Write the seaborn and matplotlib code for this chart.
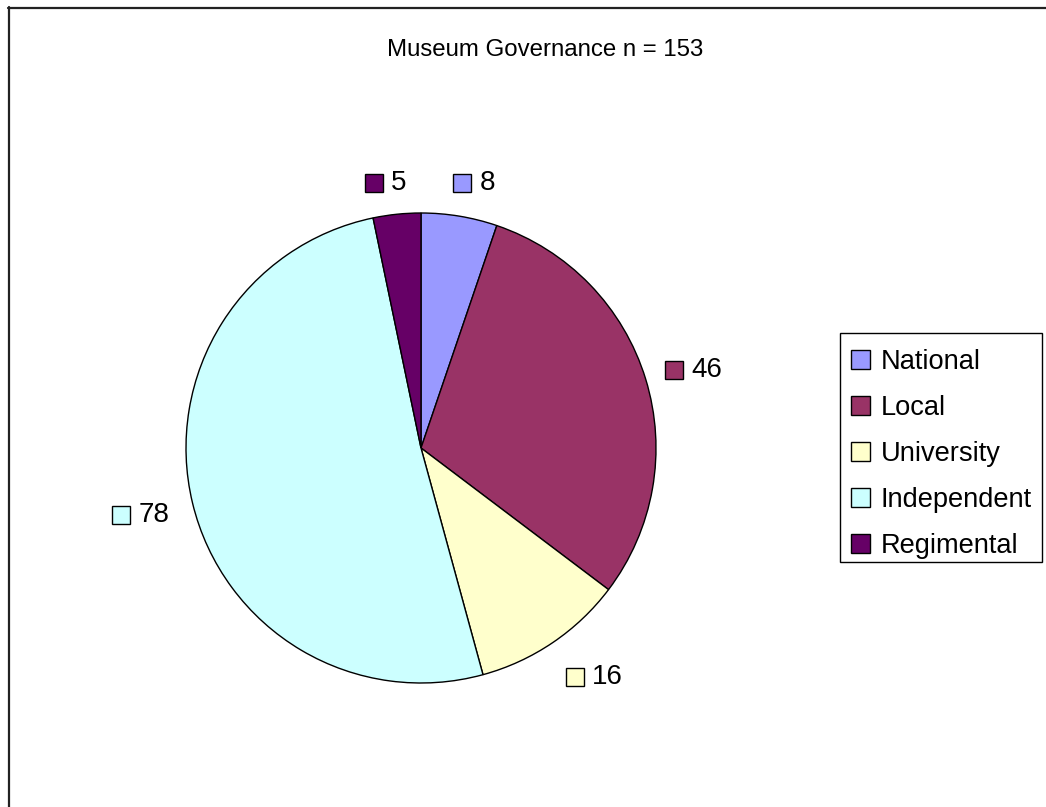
import matplotlib
matplotlib.use("Agg")
import matplotlib.pyplot as plt
from matplotlib.patches import Patch, Rectangle
from matplotlib.lines import Line2D
import seaborn as sns

# Museum governance breakdown (n = 153)
categories = ["National", "Local", "University", "Independent", "Regimental"]
counts = [8, 46, 16, 78, 5]
colors = ["#9999FF", "#993366", "#FFFFCC", "#CCFFFF", "#660066"]
title = "Museum Governance n = " + str(sum(counts))

# Where each value label's colour key sits, in pie radius units
label_xy = [(0.174, 1.128), (1.077, 0.332), (0.655, -0.974),
            (-1.277, -0.285), (-0.202, 1.126)]

sns.set_theme(style="white")
plt.rcParams["font.family"] = ["Liberation Sans", "DejaVu Sans"]
plt.rcParams["text.color"] = "black"
plt.rcParams["legend.labelcolor"] = "black"

W, H = 1046, 807
fig = plt.figure(figsize=(W / 100, H / 100), dpi=100)
fig.patch.set_facecolor("white")

cx, cy, r = 421, 448, 235
ax = fig.add_axes([(cx - r) / W, (H - cy - r) / H, 2 * r / W, 2 * r / H])

wedges, _ = ax.pie(counts, colors=colors, startangle=90, counterclock=False,
                   radius=1, center=(0, 0), frame=False,
                   wedgeprops=dict(edgecolor="black", linewidth=1.0))
ax.set_xlim(-1, 1)
ax.set_ylim(-1, 1)
ax.set_aspect("equal")
ax.axis("off")

for (lx, ly), val, col in zip(label_xy, counts, colors):
    ax.plot([lx], [ly], marker="s", markersize=12.5, markerfacecolor=col,
            markeredgecolor="black", markeredgewidth=1.0, clip_on=False)
    ax.annotate(str(val), xy=(lx, ly), xytext=(12.5, 0), textcoords="offset points",
                ha="left", va="center", fontsize=20, color="black",
                annotation_clip=False)

fig.text(545.5 / W, 1 - 50 / H, title, ha="center", va="center", fontsize=17.3,
         color="black")

# Legend entries, with a separately drawn box around them
handles = [Patch(facecolor=c, edgecolor="black", linewidth=1.0, label=lab)
           for c, lab in zip(colors, categories)]
leg = fig.legend(handles=handles, loc="upper left",
                 bbox_to_anchor=(839 / W, 1 - 336.5 / H),
                 frameon=False, fontsize=19.6,
                 handlelength=0.68, handleheight=0.68,
                 handletextpad=0.4, labelspacing=0.735, borderpad=0.45,
                 borderaxespad=0)
for t in leg.get_texts():
    t.set_color("black")
fig.add_artist(Rectangle((840 / W, 1 - 562 / H), 202 / W, 229 / H,
                         transform=fig.transFigure, facecolor="none",
                         edgecolor="black", linewidth=1.0))

# Outer chart frame (top and left edges visible)
fig.add_artist(Line2D([8 / W, 1.0], [1 - 7.5 / H, 1 - 7.5 / H],
                      transform=fig.transFigure, color="#222222", linewidth=1.6))
fig.add_artist(Line2D([8.5 / W, 8.5 / W], [0.0, 1 - 7 / H],
                      transform=fig.transFigure, color="#222222", linewidth=1.6))

fig.savefig("out.png", dpi=100, facecolor="white")
